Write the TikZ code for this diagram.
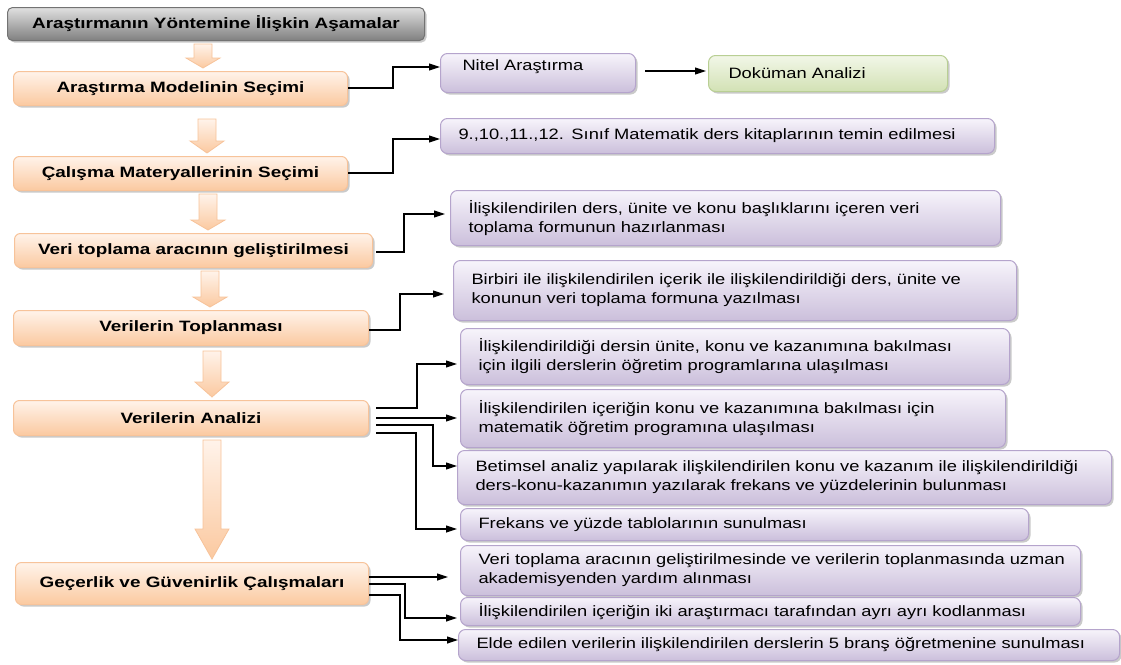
\documentclass[tikz,border=0pt]{standalone}
\usepackage{fontspec}
\setmainfont{Liberation Sans}[FakeStretch=1.22]
\newfontfamily\stagefont{Liberation Sans Bold}[FakeStretch=1.26]
\usetikzlibrary{shadows,calc,arrows.meta}

\definecolor{peachtop}{HTML}{FFF3EA}
\definecolor{peachbot}{HTML}{FBC9A0}
\definecolor{peachline}{HTML}{F7C39A}
\definecolor{lavtop}{HTML}{F7F4FB}
\definecolor{lavbot}{HTML}{CBBFDB}
\definecolor{lavline}{HTML}{B5A4CC}
\definecolor{greentop}{HTML}{F2F7E8}
\definecolor{greenbot}{HTML}{D2E1B4}
\definecolor{greenline}{HTML}{B9CF94}

\tikzset{
  boxshadow/.style={drop shadow={shadow xshift=2pt, shadow yshift=-2pt, opacity=0.35, fill=black!60}},
  titlebox/.style={anchor=north west, draw=black!55, line width=1pt, rounded corners=5pt,
    top color=black!12, bottom color=black!50, font=\fontsize{15}{19}\stagefont, inner sep=0pt, boxshadow},
  stagebox/.style={anchor=north west, draw=peachline, line width=1pt, rounded corners=6pt,
    top color=peachtop, bottom color=peachbot, font=\fontsize{15}{19}\stagefont, inner sep=0pt, boxshadow},
  taskbox/.style={anchor=north west, draw=lavline, line width=1pt, rounded corners=7pt,
    top color=lavtop, bottom color=lavbot, align=left, inner xsep=18pt, inner ysep=0pt, boxshadow},
  resultbox/.style={anchor=north west, draw=greenline, line width=1pt, rounded corners=7pt,
    top color=greentop, bottom color=greenbot, align=left, inner xsep=20pt, inner ysep=0pt, boxshadow},
  blockarr/.style={draw=peachline, line width=0.8pt, top color=peachtop, bottom color=peachbot},
  conn/.style={line width=1.1pt, -{Triangle[length=11pt,width=7pt]}}
}

\newcommand{\blockarrow}[5]{%
  \path[blockarr] let \p1=(#1.south), \p2=(#2.north) in
    (#3pt-9pt,\y1-#4pt) -- (#3pt+9pt,\y1-#4pt) -- (#3pt+9pt,\y2+3pt+#5pt)
    -- (#3pt+17pt,\y2+3pt+#5pt) -- (#3pt,\y2+3pt) -- (#3pt-17pt,\y2+3pt+#5pt)
    -- (#3pt-9pt,\y2+3pt+#5pt) -- cycle;}

\begin{document}
\begin{tikzpicture}[x=1pt, y=-1pt, font=\fontsize{15}{19}\selectfont]
\useasboundingbox (0,0) rectangle (1121,664);

\node [titlebox, minimum width=417pt, minimum height=33pt] (title) at (7,7) {Araştırmanın Yöntemine İlişkin Aşamalar};
\node [stagebox, minimum width=334pt, minimum height=34pt] (model) at (13,71) {Araştırma Modelinin Seçimi};
\node [stagebox, minimum width=334pt, minimum height=34pt] (material) at (13,156) {Çalışma Materyallerinin Seçimi};
\node [stagebox, minimum width=358pt, minimum height=34pt] (tool) at (14,233) {Veri toplama aracının geliştirilmesi};
\node [stagebox, minimum width=355pt, minimum height=35pt] (collect) at (13,310) {Verilerin Toplanması};
\node [stagebox, minimum width=355pt, minimum height=35pt] (analysis) at (13,400) {Verilerin Analizi};
\node [stagebox, minimum width=353pt, minimum height=42pt] (validity) at (15,562) {Geçerlik ve Güvenirlik Çalışmaları};

\node [taskbox, text width=151pt, inner xsep=22pt, minimum height=39pt, text depth=15pt] (nitel) at (440,53) {Nitel Araştırma};
\node [resultbox, text width=199pt, minimum height=36pt] (dok) at (708,55) {Doküman Analizi};
\node [taskbox, text width=518pt, minimum height=35pt] (books) at (440,118) {9.,10.,11.,12. Sınıf Matematik ders kitaplarının temin edilmesi};
\node [taskbox, text width=514pt, minimum height=55pt] (form) at (450,190) {İlişkilendirilen ders, ünite ve konu başlıklarını içeren veri\\toplama formunun hazırlanması};
\node [taskbox, text width=527pt, minimum height=60pt] (record) at (453,260) {Birbiri ile ilişkilendirilen içerik ile ilişkilendirildiği ders, ünite ve\\konunun veri toplama formuna yazılması};
\node [taskbox, text width=513pt, minimum height=56pt] (program) at (460,328) {İlişkilendirildiği dersin ünite, konu ve kazanımına bakılması\\için ilgili derslerin öğretim programlarına ulaşılması};
\node [taskbox, text width=509pt, minimum height=58pt] (mathprog) at (460,389) {İlişkilendirilen içeriğin konu ve kazanımına bakılması için\\matematik öğretim programına ulaşılması};
\node [taskbox, text width=618pt, minimum height=54pt] (descr) at (457,450) {\mbox{Betimsel analiz yapılarak ilişkilendirilen konu ve kazanım ile ilişkilendirildiği}\\ders-konu-kazanımın yazılarak frekans ve yüzdelerinin bulunması};
\node [taskbox, text width=532pt, minimum height=32pt] (tables) at (460,508) {Frekans ve yüzde tablolarının sunulması};
\node [taskbox, text width=584pt, minimum height=50pt] (expert) at (460,545) {\mbox{Veri toplama aracının geliştirilmesinde ve verilerin toplanmasında uzman}\\akademisyenden yardım alınması};
\node [taskbox, text width=584pt, minimum height=28pt] (coding) at (460,597) {İlişkilendirilen içeriğin iki araştırmacı tarafından ayrı ayrı kodlanması};
\node [taskbox, text width=625pt, minimum height=31pt] (teachers) at (458,629) {\mbox{Elde edilen verilerin ilişkilendirilen derslerin 5 branş öğretmenine sunulması}};

\blockarrow{title}{model}{203}{3}{10}
\blockarrow{model}{material}{207}{13}{12}
\blockarrow{material}{tool}{208}{3}{10}
\blockarrow{tool}{collect}{210}{3}{10}
\blockarrow{collect}{analysis}{212}{5}{15}
\blockarrow{analysis}{validity}{212}{4}{30}

\draw [conn] (model.east |- 0,88) -- ++(45,0) |- (nitel.west |- 0,67);
\draw [conn, shorten <=9pt, shorten >=2pt] (nitel.east |- 0,71) -- (dok.west |- 0,71);
\draw [conn] (material.east |- 0,173) -- ++(45,0) |- (books.west |- 0,139);
\draw [conn, shorten <=3pt, shorten >=5pt] (tool.east |- 0,252) -- ++(31,0) |- (form.west |- 0,214);
\draw [conn, shorten >=9pt] (collect.east |- 0,330) -- ++(31,0) |- (record.west |- 0,294);
\draw [conn, shorten <=7pt, shorten >=3pt] (analysis.east |- 0,408) -- ++(48,0) |- (program.west |- 0,364);
\draw [conn, shorten <=7pt, shorten >=3pt] (analysis.east |- 0,418) -- (mathprog.west |- 0,418);
\draw [conn, shorten <=7pt] (analysis.east |- 0,425) -- ++(64,0) |- (descr.west |- 0,466);
\draw [conn, shorten <=7pt, shorten >=3pt] (analysis.east |- 0,433) -- ++(47,0) |- (tables.west |- 0,529);
\draw [conn, shorten >=12pt] (validity.east |- 0,577) -- (expert.west |- 0,577);
\draw [conn, shorten >=3pt] (validity.east |- 0,584) -- ++(36,0) |- (coding.west |- 0,618);
\draw [conn] (validity.east |- 0,595) -- ++(31,0) |- (teachers.west |- 0,640);
\end{tikzpicture}
\end{document}
